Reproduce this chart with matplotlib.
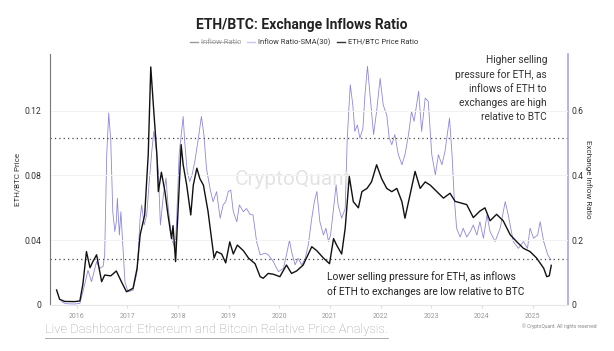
import matplotlib
matplotlib.use("Agg")
import matplotlib.pyplot as plt
from matplotlib.lines import Line2D

plt.rcParams["font.family"] = ["Roboto", "DejaVu Sans"]

# ---------- data ----------
price_t = [2015.60, 2015.66, 2015.76, 2015.96, 2016.06, 2016.12, 2016.19, 2016.26, 2016.32,
           2016.39, 2016.49, 2016.55, 2016.67, 2016.78, 2016.88, 2016.98, 2017.11, 2017.19,
           2017.25, 2017.34, 2017.41, 2017.46, 2017.51, 2017.58, 2017.61, 2017.67, 2017.74,
           2017.80, 2017.87, 2017.90, 2017.95, 2018.02, 2018.06, 2018.10, 2018.17, 2018.25,
           2018.30, 2018.37, 2018.43, 2018.50, 2018.59, 2018.66, 2018.71, 2018.76, 2018.86,
           2018.94, 2019.02, 2019.09, 2019.17, 2019.29, 2019.39, 2019.52, 2019.62, 2019.68,
           2019.78, 2019.88, 2020.01, 2020.14, 2020.24, 2020.34, 2020.47, 2020.64, 2020.74,
           2020.87, 2020.99, 2021.07, 2021.13, 2021.23, 2021.30, 2021.38, 2021.46, 2021.56,
           2021.63, 2021.73, 2021.82, 2021.92, 2022.02, 2022.12, 2022.22, 2022.32, 2022.42,
           2022.48, 2022.58, 2022.68, 2022.78, 2022.88, 2022.98, 2023.11, 2023.24, 2023.37,
           2023.47, 2023.70, 2023.83, 2023.96, 2024.06, 2024.16, 2024.29, 2024.42, 2024.56,
           2024.69, 2024.82, 2024.95, 2025.08, 2025.22, 2025.28, 2025.33, 2025.37]
price = [0.0093, 0.0035, 0.0022, 0.0021, 0.0025, 0.013, 0.033, 0.023, 0.027,
         0.031, 0.0144, 0.0185, 0.018, 0.021, 0.0144, 0.0082, 0.0103, 0.0227,
         0.0433, 0.0556, 0.093, 0.147, 0.124, 0.093, 0.070, 0.082, 0.070,
         0.0556, 0.041, 0.049, 0.0268, 0.072, 0.099, 0.0866, 0.074, 0.0556,
         0.074, 0.0845, 0.078, 0.074, 0.058, 0.041, 0.029, 0.033, 0.0315,
         0.026, 0.039, 0.0315, 0.037, 0.0335, 0.029, 0.0255, 0.0175, 0.0165,
         0.0195, 0.019, 0.0175, 0.0247, 0.0195, 0.021, 0.0247, 0.036, 0.0335,
         0.029, 0.0255, 0.041, 0.037, 0.0315, 0.0474, 0.0794, 0.0638, 0.060,
         0.070, 0.072, 0.076, 0.0866, 0.078, 0.072, 0.070, 0.072, 0.0638,
         0.0536, 0.068, 0.0825, 0.072, 0.076, 0.074, 0.070, 0.066, 0.069,
         0.064, 0.062, 0.054, 0.058, 0.060, 0.052, 0.056, 0.052, 0.0433,
         0.039, 0.035, 0.033, 0.029, 0.0227, 0.0175, 0.018, 0.0245]

sma_t = [2015.70, 2015.78, 2015.96, 2016.06, 2016.12, 2016.22, 2016.29, 2016.39, 2016.45,
         2016.52, 2016.55, 2016.59, 2016.63, 2016.67, 2016.71, 2016.75, 2016.78, 2016.80,
         2016.84, 2016.87, 2016.90, 2016.95, 2017.01, 2017.11, 2017.19, 2017.25, 2017.28,
         2017.33, 2017.38, 2017.43, 2017.48, 2017.52, 2017.54, 2017.58, 2017.61, 2017.65,
         2017.71, 2017.76, 2017.80, 2017.85, 2017.89, 2017.94, 2017.97, 2018.02, 2018.10,
         2018.13, 2018.18, 2018.23, 2018.28, 2018.33, 2018.40, 2018.46, 2018.51, 2018.56,
         2018.63, 2018.69, 2018.76, 2018.83, 2018.89, 2018.94, 2018.99, 2019.04, 2019.09,
         2019.16, 2019.21, 2019.29, 2019.35, 2019.42, 2019.48, 2019.55, 2019.62, 2019.72,
         2019.78, 2019.88, 2019.98, 2020.08, 2020.14, 2020.20, 2020.24, 2020.31, 2020.37,
         2020.44, 2020.51, 2020.57, 2020.64, 2020.69, 2020.74, 2020.80, 2020.87, 2020.92,
         2020.97, 2021.01, 2021.07, 2021.12, 2021.16, 2021.23, 2021.30, 2021.34, 2021.40,
         2021.45, 2021.49, 2021.54, 2021.59, 2021.65, 2021.69, 2021.74, 2021.79, 2021.86,
         2021.92, 2021.99, 2022.05, 2022.12, 2022.17, 2022.22, 2022.28, 2022.35, 2022.42,
         2022.48, 2022.55, 2022.61, 2022.66, 2022.75, 2022.81, 2022.88, 2022.94, 2023.01,
         2023.08, 2023.14, 2023.21, 2023.27, 2023.36, 2023.41, 2023.45, 2023.50, 2023.57,
         2023.63, 2023.70, 2023.77, 2023.83, 2023.90, 2023.96, 2024.03, 2024.10, 2024.16,
         2024.26, 2024.36, 2024.46, 2024.52, 2024.62, 2024.72, 2024.82, 2024.90, 2024.95,
         2025.02, 2025.10, 2025.15, 2025.22, 2025.30, 2025.36]
sma = [0.010, 0.004, 0.003, 0.005, 0.041, 0.107, 0.072, 0.134, 0.113,
       0.120, 0.155, 0.464, 0.593, 0.507, 0.288, 0.227, 0.257, 0.330,
       0.216, 0.288, 0.206, 0.072, 0.041, 0.046, 0.103, 0.268, 0.309,
       0.247, 0.278, 0.381, 0.474, 0.536, 0.515, 0.464, 0.412, 0.247,
       0.340, 0.392, 0.309, 0.237, 0.196, 0.175, 0.257, 0.464, 0.582,
       0.505, 0.412, 0.381, 0.405, 0.443, 0.515, 0.582, 0.525, 0.422,
       0.360, 0.319, 0.350, 0.268, 0.309, 0.319, 0.350, 0.355, 0.288,
       0.257, 0.309, 0.288, 0.298, 0.280, 0.278, 0.196, 0.155, 0.160,
       0.155, 0.134, 0.103, 0.113, 0.155, 0.200, 0.165, 0.124, 0.144,
       0.124, 0.144, 0.185, 0.268, 0.319, 0.350, 0.257, 0.216, 0.237,
       0.196, 0.216, 0.298, 0.371, 0.309, 0.268, 0.298, 0.515, 0.680,
       0.618, 0.536, 0.556, 0.515, 0.546, 0.649, 0.737, 0.649, 0.526,
       0.598, 0.700, 0.618, 0.587, 0.515, 0.495, 0.526, 0.464, 0.433,
       0.464, 0.526, 0.598, 0.567, 0.660, 0.536, 0.639, 0.629, 0.464,
       0.402, 0.464, 0.433, 0.474, 0.577, 0.464, 0.340, 0.237, 0.210,
       0.237, 0.210, 0.227, 0.247, 0.216, 0.257, 0.206, 0.278, 0.227,
       0.196, 0.237, 0.319, 0.278, 0.196, 0.175, 0.196, 0.175, 0.237,
       0.206, 0.216, 0.257, 0.196, 0.155, 0.140]

years = list(range(2016, 2026))
left_ticks = [0, 0.04, 0.08, 0.12]
right_ticks = [0, 0.2, 0.4, 0.6]
high_level = 0.517   # dotted threshold on the inflow-ratio axis
low_level = 0.141

W, H = 614, 351


def fx(x):
    return x / W


def fy(y):
    return 1 - y / H


# ---------- figure ----------
fig = plt.figure(figsize=(W / 100, H / 100), dpi=100)
ax = fig.add_axes([fx(50), fy(305), (568 - 50) / W, (305 - 54) / H])
ax2 = ax.twinx()
ax.set_zorder(ax2.get_zorder() + 1)
ax.patch.set_visible(False)

purple = "#8d88de"
ax2.plot(sma_t, sma, color=purple, lw=0.6)
ax.plot(price_t, price, color="#111111", lw=1.0)

for lvl in (high_level, low_level):
    ax2.axhline(lvl, color="#444444", ls=(0, (1, 2.5)), lw=0.9)

ax.set_xlim(2015.47, 2025.70)
ax.set_ylim(0, 0.155)
ax2.set_ylim(0, 0.775)

ax.set_yticks(left_ticks)
ax.set_yticklabels(["0", "0.04", "0.08", "0.12"])
ax2.set_yticks(right_ticks)
ax2.set_yticklabels(["0", "0.2", "0.4", "0.6"])
ax.set_xticks(years)
ax.set_xticklabels([str(y) for y in years])

ax.grid(True, axis="y", color="#f2f2f2", lw=0.7)
ax.tick_params(axis="y", labelsize=6.2, colors="#333333", length=0, pad=6)
ax.tick_params(axis="x", labelsize=5, colors="#999999", length=2.5, color="#dddddd", pad=3)
ax2.tick_params(axis="y", labelsize=6.2, colors="#333333", length=0, pad=2.5)

for a in (ax, ax2):
    a.spines["top"].set_visible(False)
ax.spines["right"].set_visible(False)
ax2.spines["left"].set_visible(False)
ax2.spines["bottom"].set_visible(False)
ax.spines["left"].set_color("#777777")
ax.spines["left"].set_linewidth(0.8)
ax.spines["bottom"].set_color("#e6e6e6")
ax.spines["bottom"].set_linewidth(0.8)
ax2.spines["right"].set_color("#aaa6e6")
ax2.spines["right"].set_linewidth(1.2)

ax.set_ylabel("ETH/BTC Price", fontsize=5.8, color="#333333")
ax.yaxis.set_label_coords((21 - 50) / 518, 0.5)
ax2.set_ylabel("Exchange Inflow Ratio", fontsize=5.8, color="#333333", rotation=270,
               va="center")
ax2.yaxis.set_label_coords((588 - 50) / 518, 0.5)

# watermark
ax.text(0.47, 0.5, "CryptoQuant", transform=ax.transAxes, fontsize=15,
        color="#e3e3e3", ha="center", va="center", zorder=0)

# annotations
ax.text(fx(547), fy(55), "Higher selling\npressure for ETH, as\ninflows of ETH to\n"
        "exchanges are high\nrelative to BTC", transform=fig.transFigure,
        ha="right", va="top", fontsize=7.3, color="#333333", linespacing=1.5)
ax.text(fx(327), fy(271), "Lower selling pressure for ETH, as inflows\n"
        "of ETH to exchanges are low relative to BTC", transform=fig.transFigure,
        ha="left", va="top", fontsize=7.3, color="#222222", linespacing=1.45)

# title + legend
fig.text(fx(302), fy(25), "ETH/BTC: Exchange Inflows Ratio", ha="center", va="center",
         fontsize=10, fontweight="bold", color="#222222")
legend_items = [("Inflow Ratio", "#999999", 190), ("Inflow Ratio-SMA(30)", "#c9c6f0", 247),
                ("ETH/BTC Price Ratio", "#333333", 337)]
ly = fy(42)
for label, col, x0 in legend_items:
    fig.add_artist(Line2D([fx(x0), fx(x0 + 8)], [ly, ly], color=col, lw=1.0))
    fig.text(fx(x0 + 11), ly, label, ha="left", va="center", fontsize=5.5,
             color="#999999" if label == "Inflow Ratio" else "#333333")
    if label == "Inflow Ratio":
        fig.add_artist(Line2D([fx(x0 + 11), fx(x0 + 48)], [ly, ly], color="#999999", lw=0.5))

# footer
fig.text(fx(45), fy(329), "Live Dashboard: Ethereum and Bitcoin Relative Price Analysis.",
         ha="left", va="center", fontsize=9.4, color="#a0a0a0", fontweight="light")
fig.add_artist(Line2D([fx(45), fx(388)], [fy(337.5), fy(337.5)], color="#a0a0a0", lw=0.6))
fig.text(fx(597), fy(326), "© CryptoQuant. All rights reserved", ha="right", va="center",
         fontsize=3.5, color="#888888")

fig.savefig("out.png", dpi=100, facecolor="white")
